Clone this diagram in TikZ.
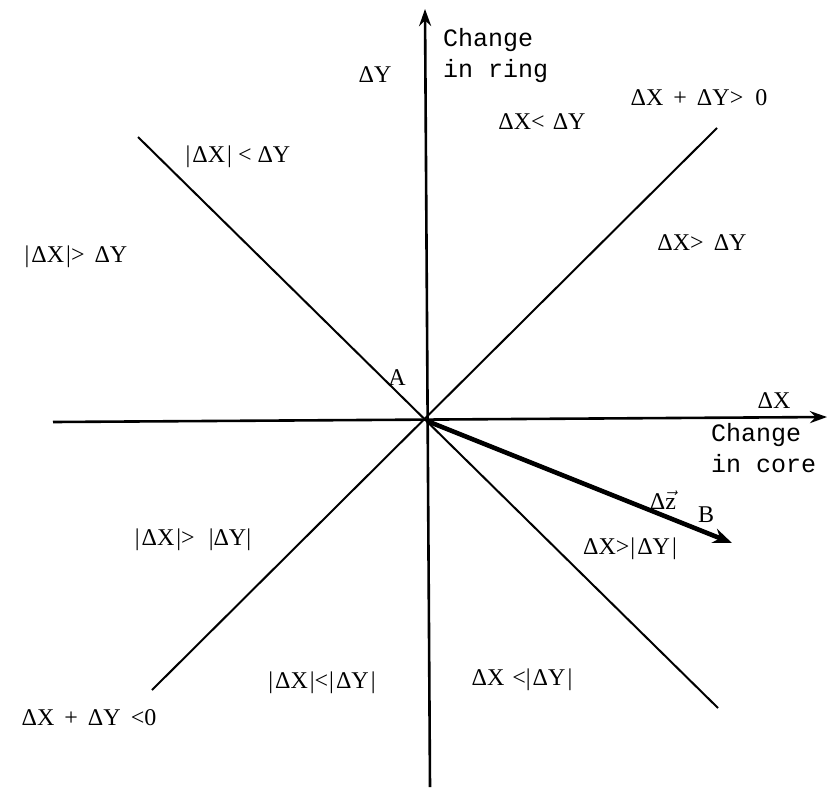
\documentclass[tikz,border=0pt]{standalone}
\usepackage{fontspec}
\setmainfont{Liberation Serif}
\setmonofont{Liberation Mono}
\usetikzlibrary{arrows.meta}
\tikzset{
  axis/.style={line width=2.6pt, -{Stealth[length=17pt,width=12pt]}},
  diag/.style={line width=2pt},
  vec/.style={line width=4.6pt, -{Stealth[length=19pt,width=15pt]}},
  lab/.style={font=\fontsize{24}{28}\selectfont, inner sep=0pt},
  mono/.style={font=\ttfamily\fontsize{25}{31}\selectfont, inner sep=0pt, align=left, anchor=north west}
}
\begin{document}
\begin{tikzpicture}[x=1pt,y=-1pt]
\useasboundingbox (0,0) rectangle (827,788);
% key points
\coordinate (O) at (427,421);
\coordinate (yt) at (425,9);
\coordinate (yb) at (430,787);
\coordinate (xl) at (53,422);
\coordinate (xr) at (827,417);
\coordinate (ne) at (717,128);
\coordinate (sw) at (152,690);
\coordinate (nw) at (138,137);
\coordinate (se) at (718,708);
\coordinate (tip) at (732,543);
% lines
\draw[axis] (yb) -- (yt);
\draw[axis] (xl) -- (xr);
\draw[diag] (sw) -- (ne);
\draw[diag] (nw) -- (se);
\draw[vec] (O) -- (tip);
% labels
\node[lab] (dy) at (375,75) {ΔY};
\node[mono] (ring) at (443,28) {Change\\in ring};
\node[lab] (q1a) at (699,98) {ΔX\hspace{10pt}+\hspace{10pt}ΔY>\hspace{12pt}0};
\node[lab] (q1b) at (542,122) {ΔX<\hspace{8pt}ΔY};
\node[lab] (q1c) at (702,243) {ΔX>\hspace{10pt}ΔY};
\node[lab] (q2a) at (238,157) {|\hspace{2pt}ΔX\hspace{2pt}|\hspace{6pt}<\hspace{6pt}ΔY};
\node[lab] (q2b) at (76,257) {|\hspace{2pt}ΔX\hspace{2pt}|>\hspace{10pt}ΔY};
\node[lab] (A) at (397,378) {A};
\node[lab] (dx) at (774,401) {ΔX};
\node[mono] (core) at (711,423) {Change\\in core};
\node[lab] (dz) at (663,500) {Δ$\vec{\hbox{z}}$};
\node[lab] (B) at (706,515) {B};
\node[lab] (q4a) at (630,549) {ΔX>\hspace{1pt}|\hspace{2pt}ΔY\hspace{2pt}|};
\node[lab] (q3a) at (193,540) {|\hspace{2pt}ΔX\hspace{2pt}|>\hspace{14pt}|ΔY|};
\node[lab] (q3b) at (322,683) {|\hspace{2pt}ΔX\hspace{2pt}|<\hspace{1pt}|\hspace{2pt}ΔY\hspace{2pt}|};
\node[lab] (q4b) at (522,680) {ΔX\hspace{8pt}<|\hspace{2pt}ΔY\hspace{2pt}|};
\node[lab] (q3c) at (89,718) {ΔX\hspace{10pt}+\hspace{10pt}ΔY\hspace{10pt}<0};
\end{tikzpicture}
\end{document}
